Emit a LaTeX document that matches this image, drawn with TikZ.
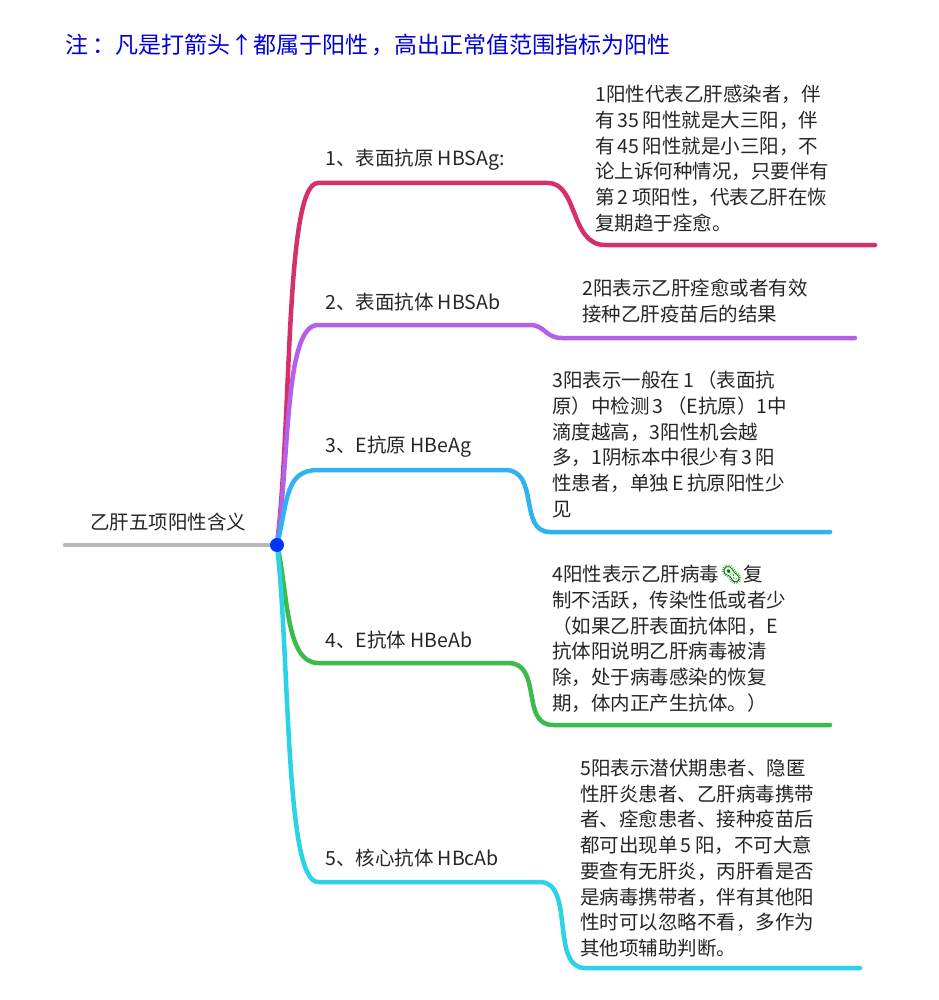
\documentclass[tikz,border=0pt]{standalone}
\usepackage{fontspec}
\setmainfont{Noto Sans CJK SC}
\newfontfamily\emojifont{Noto Emoji}
\newcommand{\dg}[1]{\,#1\,}
\begin{document}
\begin{tikzpicture}[x=1pt,y=-1pt,
  br/.style={line width=4.5pt,line cap=round},
  lbl/.style={anchor=west,inner sep=0,font=\fontsize{19.5}{24}\selectfont,text=black!85},
  txt/.style={anchor=north west,inner sep=0,align=left,font=\fontsize{19.5}{25.7}\selectfont,text=black!85}]
\useasboundingbox[fill=white] (0,0) rectangle (938,1000);
\definecolor{c1}{HTML}{D6306A}\definecolor{c2}{HTML}{B560EA}\definecolor{c3}{HTML}{2FB2F2}
\definecolor{c4}{HTML}{3DBA4C}\definecolor{c5}{HTML}{2AD3E6}
\node[anchor=west,inner sep=0,text=blue!85!black,font=\fontsize{23}{26}\selectfont] (title) at (65,45) {注\,：凡是打箭头↑都属于阳性\,，高出正常值范围指标为阳性};
\coordinate (r0) at (65,545);
\coordinate (root) at (277,545);
\draw[line width=4.5pt,gray!55,line cap=round] (r0) -- (root);
\node[lbl] (rootl) at (90,522) {乙肝五项阳性含义};
\coordinate (a1) at (318,183);\coordinate (b1) at (548,183);\coordinate (c1e) at (605,245);\coordinate (d1) at (875,245);
\coordinate (a2) at (318,325);\coordinate (b2) at (530,325);\coordinate (c2e) at (562,338);\coordinate (d2) at (855,338);
\coordinate (a3) at (318,470);\coordinate (b3) at (505,470);\coordinate (c3e) at (550,532);\coordinate (d3) at (830,532);
\coordinate (a4) at (318,663);\coordinate (b4) at (508,663);\coordinate (c4e) at (553,725);\coordinate (d4) at (830,725);
\coordinate (a5) at (318,882);\coordinate (b5) at (540,882);\coordinate (c5e) at (585,968);\coordinate (d5) at (860,968);
\draw[br,c1] (root) .. controls (292,420) and (285,183) .. (a1) -- (b1) .. controls (578,183) and (570,245) .. (c1e) -- (d1);
\draw[br,c2] (root) .. controls (290,450) and (285,325) .. (a2) -- (b2) .. controls (545,325) and (545,338) .. (c2e) -- (d2);
\draw[br,c3] (root) .. controls (288,500) and (285,470) .. (a3) -- (b3) .. controls (540,470) and (518,532) .. (c3e) -- (d3);
\draw[br,c4] (root) .. controls (288,590) and (285,663) .. (a4) -- (b4) .. controls (543,663) and (520,725) .. (c4e) -- (d4);
\draw[br,c5] (root) .. controls (290,660) and (285,882) .. (a5) -- (b5) .. controls (575,882) and (550,968) .. (c5e) -- (d5);
\fill[blue!80!cyan] (root) circle (7);
\node[lbl] (l1) at (325,160) {1、表面抗原 HBSAg:};
\node[lbl] (l2) at (325,302) {2、表面抗体 HBSAb};
\node[lbl] (l3) at (325,447) {3、E抗原 HBeAg};
\node[lbl] (l4) at (325,640) {4、E抗体 HBeAb};
\node[lbl] (l5) at (325,858) {5、核心抗体 HBcAb};
\node[txt] (t1) at (595,85) {1阳性代表乙肝感染者，伴\\有\dg{35}阳性就是大三阳，伴\\有\dg{45}阳性就是小三阳，不\\论上诉何种情况，只要伴有\\第\dg{2}项阳性，代表乙肝在恢\\复期趋于痊愈。};
\node[txt] (t2) at (582,279) {2阳表示乙肝痊愈或者有效\\接种乙肝疫苗后的结果};
\node[txt] (t3) at (552,371) {3阳表示一般在\dg{1}（表面抗\\原）中检测\dg{3}（E抗原）1中\\滴度越高，3阳性机会越\\多，1阴标本中很少有\dg{3}阳\\性患者，单独\dg{E}抗原阳性少\\见};
\node[txt] (t4) at (552,565) {4阳性表示乙肝病毒{\emojifont\textcolor{green!50!black}{🦠}}复\\制不活跃，传染性低或者少\\（如果乙肝表面抗体阳，E\\抗体阳说明乙肝病毒被清\\除，处于病毒感染的恢复\\期，体内正产生抗体。）};
\node[txt] (t5) at (580,759) {5阳表示潜伏期患者、隐匿\\性肝炎患者、乙肝病毒携带\\者、痊愈患者、接种疫苗后\\都可出现单\dg{5}阳，不可大意\\要查有无肝炎，丙肝看是否\\是病毒携带者，伴有其他阳\\性时可以忽略不看，多作为\\其他项辅助判断。};
\end{tikzpicture}
\end{document}
